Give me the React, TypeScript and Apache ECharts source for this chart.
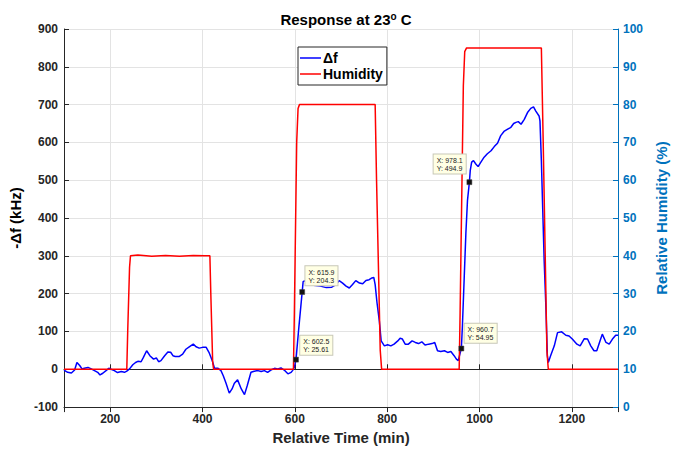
import React, { useEffect, useRef } from "react";
import * as echarts from "echarts";

// Δf series (relative time in min, -Δf in kHz)
const dfTime = [
  100, 108, 116, 123, 128, 134, 139, 144, 152, 159, 166, 173, 178, 184, 191, 197, 202, 209, 216, 224,
  231, 236, 242, 249, 255, 260, 267, 272, 279, 286, 294, 300, 305, 310, 318, 325, 331, 336, 341, 350,
  357, 364, 372, 380, 386, 393, 400, 408, 414, 421, 426, 433, 440, 445, 451, 458, 464, 469, 476, 484,
  491, 497, 505, 512, 520, 527, 534, 541, 548, 556, 563, 570, 577, 585, 592, 595, 599, 602.5, 609, 615.9,
  618, 621, 628, 640, 655, 668, 680, 689, 696, 703.5, 711, 718, 725, 732, 740, 747, 754, 761, 767, 771,
  774, 778, 783, 787, 794, 801, 808, 815, 823, 828, 833, 839, 846, 854, 861, 868, 875, 882, 890, 897,
  903, 909, 916, 924, 931, 938, 945, 950, 954, 957.5, 960.7, 963, 967, 970.5, 974, 978.1, 980, 983, 987, 992,
  997, 1003, 1010, 1017, 1025, 1032, 1039, 1046, 1053, 1061, 1068, 1074, 1079, 1084, 1090, 1097, 1104, 1111, 1117, 1122,
  1129, 1131, 1134, 1137, 1140, 1144, 1147, 1149, 1154, 1162, 1169, 1178, 1187, 1194, 1201, 1211, 1218, 1227, 1234, 1241,
  1248, 1254, 1261, 1266, 1274, 1281, 1288, 1295, 1300,
];
const dfValues = [
  -2, -8, -10, -2, 18, 10, 1, 3, 5, 1, -3.5, -8, -15, -10.5, -3.5, 2.6, 0, -3.5, -8.7, -6,
  -8, -5, 1, 12, 18, 21, 20, 31.5, 49, 36, 27, 30, 20, 23, 36, 46, 45, 36, 34, 34,
  40, 53, 60, 66.5, 59.5, 56, 58, 58, 45, 23, 3, 3, -3.5, -17, -37, -63, -52, -37, -28, -52,
  -67, -43, -8, -5, -3.5, -6, -3.5, -8, -2, 2.6, 1, 3.5, -2, -12, -8, -3.5, 5, 25.61, 115, 204.3,
  232, 234, 226, 222, 220, 216, 217, 224, 234.5, 228, 220, 215, 224, 234.5, 228, 226, 235, 237, 241.5, 243,
  224, 176, 128, 75, 62, 65, 62, 66.5, 75, 82, 80, 66.5, 66.5, 75, 71, 68, 72.6, 64, 66.5, 68,
  71, 49, 47, 49, 44.6, 47, 36, 27, 23, 40, 54.95, 115, 246, 360, 447, 494.9, 526, 548, 552, 543,
  536, 548, 561, 570, 578, 589, 598, 618, 629, 635, 640, 650, 653, 655, 648, 661, 679, 690, 694, 683,
  670, 657, 552, 421, 290, 158, 36, 18, 36, 62, 97, 99, 90, 88, 80, 66.5, 62, 81, 80, 62,
  49, 49, 75, 93, 71, 66.5, 80, 90, 90,
];

// Humidity series (relative time in min, RH in %)
const rhTime = [
  100, 236, 238, 242, 244, 260, 290, 320, 350, 380, 405, 416, 418, 422, 424,
  597, 599, 604, 607, 610, 774, 777, 785, 788,
  956, 958, 965, 968, 972, 1134, 1138, 1146, 1149, 1300,
];
const rhValues = [
  10, 10, 20, 37, 40, 40.2, 39.9, 40.1, 39.9, 40.1, 40, 40, 30, 12, 10,
  10, 25, 70, 79, 80, 80, 60, 15, 10,
  10, 25, 85, 94, 95, 95, 70, 15, 10, 10,
];

// Data tips
const tipX = [602.5, 615.9, 960.7, 978.1];
const tipY = [25.61, 204.3, 54.95, 494.9];
const tipLabelX = ["602.5", "615.9", "960.7", "978.1"];
const tipLabelY = ["25.61", "204.3", "54.95", "494.9"];
const tipOffsets = [
  [7, -21],
  [6, -23],
  [6, -22],
  [-33, -25],
];

const FONT = "'Liberation Sans', Arial, sans-serif";
const DARK = "#262626";
const BLUE_AXIS = "#0072BD";

export default function App() {
  const ref = useRef<HTMLDivElement>(null);

  useEffect(() => {
    if (!ref.current) return;
    const chart = echarts.init(ref.current, undefined, { renderer: "svg" });

    const dfData = dfTime.map((t, i) => [t, dfValues[i]]);
    const rhData = rhTime.map((t, i) => [t, rhValues[i]]);

    const tips = tipX.map((x, i) => ({
      coord: [x, tipY[i]],
      value: tipY[i],
      label: {
        show: true,
        position: tipOffsets[i],
        formatter: "X: " + tipLabelX[i] + "\nY: " + tipLabelY[i],
        fontFamily: FONT,
        fontSize: 7,
        lineHeight: 8,
        color: "#222",
        backgroundColor: "#ffffe4",
        borderColor: "#c8c8b8",
        borderWidth: 1,
        padding: [2, 3, 1, 3],
        align: "left",
        verticalAlign: "top",
      },
    }));

    const option: any = {
      animation: false,
      backgroundColor: "#ffffff",
      title: {
        text: "Response at 23{sup|o} C",
        left: 341,
        textAlign: "center",
        top: 6,
        textStyle: {
          fontFamily: FONT,
          fontWeight: "bold",
          fontSize: 15,
          color: "#000",
          rich: {
            sup: {
              fontFamily: FONT,
              fontWeight: "bold",
              fontSize: 10,
              color: "#000",
              verticalAlign: "top",
              padding: [0, 0, 6, 0],
            },
          },
        },
      },
      legend: {
        orient: "vertical",
        left: 298,
        top: 47,
        backgroundColor: "#ffffff",
        borderColor: DARK,
        borderWidth: 1,
        borderRadius: 0,
        padding: [4, 4, 4, 2],
        icon: "rect",
        itemWidth: 21,
        itemHeight: 1.5,
        itemGap: 2,
        data: ["Δf", "Humidity"],
        textStyle: {
          fontFamily: FONT,
          fontWeight: "bold",
          fontSize: 14,
          lineHeight: 14,
          color: "#000",
          padding: [0, 0, 0, -3],
        },
      },
      grid: {
        left: 64,
        right: 60,
        top: 29,
        bottom: 40,
        containLabel: false,
      },
      xAxis: [
        {
          type: "value",
          min: 100,
          max: 1300,
          splitNumber: 6,
          name: "Relative Time (min)",
          nameLocation: "middle",
          nameGap: 21,
          nameTextStyle: {
            fontFamily: FONT,
            fontWeight: "bold",
            fontSize: 15,
            color: DARK,
          },
          axisLine: { show: true, lineStyle: { color: DARK, width: 1 } },
          axisTick: { show: true, inside: true, length: 5, lineStyle: { color: DARK } },
          axisLabel: {
            showMinLabel: false,
            showMaxLabel: false,
            margin: 6,
            fontFamily: FONT,
            fontWeight: "bold",
            fontSize: 12,
            color: DARK,
            formatter: (v: number) => String(v),
          },
          splitLine: { show: true, lineStyle: { color: "#e3e3e3", width: 1 } },
        },
        {
          type: "value",
          position: "top",
          min: 100,
          max: 1300,
          splitNumber: 6,
          axisLine: { show: true, lineStyle: { color: DARK, width: 1 } },
          axisTick: { show: true, inside: true, length: 5, lineStyle: { color: DARK } },
          axisLabel: { show: false },
          splitLine: { show: false },
        },
      ],
      yAxis: [
        {
          type: "value",
          min: -100,
          max: 900,
          interval: 100,
          name: "-Δf (kHz)",
          nameLocation: "middle",
          nameGap: 33,
          nameTextStyle: {
            fontFamily: FONT,
            fontWeight: "bold",
            fontSize: 15,
            color: "#000",
          },
          axisLine: { show: true, lineStyle: { color: DARK, width: 1 } },
          axisTick: { show: true, inside: true, length: 5, lineStyle: { color: DARK } },
          axisLabel: {
            margin: 6,
            fontFamily: FONT,
            fontWeight: "bold",
            fontSize: 12,
            color: DARK,
          },
          splitLine: { show: true, lineStyle: { color: "#e3e3e3", width: 1 } },
        },
        {
          type: "value",
          position: "right",
          min: 0,
          max: 100,
          interval: 10,
          name: "Relative Humidity (%)",
          nameLocation: "middle",
          nameGap: 35,
          nameRotate: 90,
          nameTextStyle: {
            fontFamily: FONT,
            fontWeight: "bold",
            fontSize: 15,
            color: BLUE_AXIS,
          },
          axisLine: { show: true, lineStyle: { color: BLUE_AXIS, width: 1 } },
          axisTick: { show: true, inside: true, length: 5, lineStyle: { color: BLUE_AXIS } },
          axisLabel: {
            margin: 5,
            fontFamily: FONT,
            fontWeight: "bold",
            fontSize: 12,
            color: BLUE_AXIS,
          },
          splitLine: { show: false },
        },
      ],
      series: [
        {
          name: "Δf",
          type: "line",
          xAxisIndex: 0,
          yAxisIndex: 0,
          data: dfData,
          symbol: "none",
          showSymbol: false,
          lineStyle: { color: "#0000ff", width: 1.5 },
          itemStyle: { color: "#0000ff" },
          z: 2,
          markPoint: {
            symbol: "rect",
            symbolSize: 5,
            itemStyle: { color: "#111111", borderColor: "#444", borderWidth: 0.5 },
            data: tips,
            z: 10,
          },
        },
        {
          name: "Humidity",
          type: "line",
          xAxisIndex: 0,
          yAxisIndex: 1,
          data: rhData,
          symbol: "none",
          showSymbol: false,
          lineStyle: { color: "#ff0000", width: 1.5 },
          itemStyle: { color: "#ff0000" },
          z: 3,
        },
      ],
    };

    chart.setOption(option);
    return () => {
      chart.dispose();
    };
  }, []);

  return (
    <div
      ref={ref}
      style={{ position: "absolute", left: 0, top: 0, width: 678, height: 450, background: "#fff" }}
    />
  );
}
